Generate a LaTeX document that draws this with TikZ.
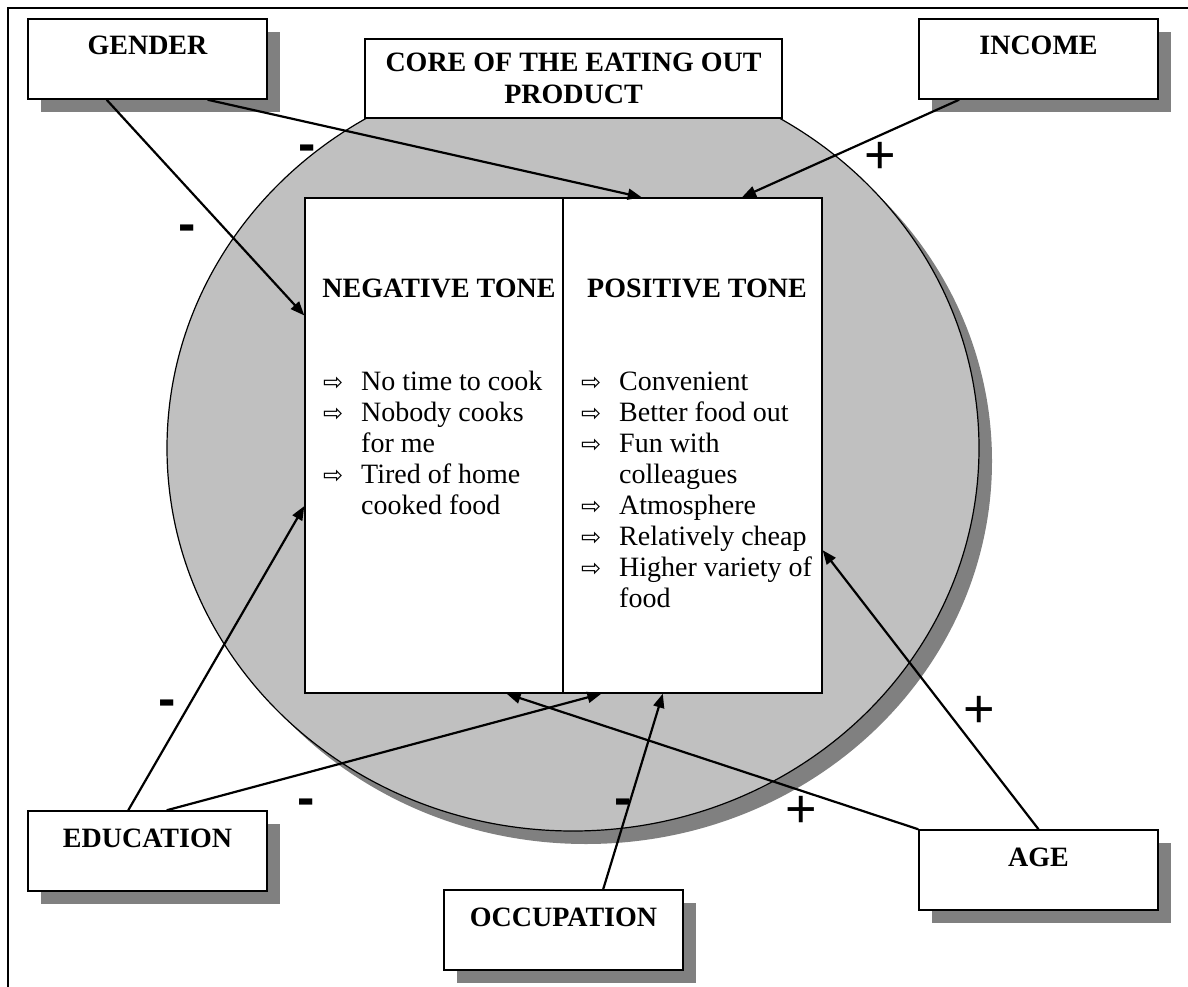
\documentclass[tikz,border=0pt]{standalone}
\usepackage{fontspec}
\setmainfont{Liberation Serif}
\newfontfamily\signfont{Liberation Sans}
\newfontfamily\arrfont{DejaVu Sans}
\usetikzlibrary{arrows.meta,shapes.geometric,shadows,calc}
\definecolor{discgray}{HTML}{C0C0C0}
\definecolor{shadegray}{HTML}{808080}
\newcommand{\itm}{\makebox[38pt][l]{\arrfont\fontsize{24}{24}\selectfont ⇨}}
\newcommand{\ind}{\hspace*{38pt}}
\begin{document}
\begin{tikzpicture}[x=1pt,y=-1pt,
  myshadow/.style={drop shadow={shadow xshift=13pt, shadow yshift=-13pt, fill=shadegray, opacity=1}},
  factor/.style={draw, fill=white, line width=1.5pt, minimum width=239pt,
    inner xsep=0pt, inner ysep=0pt, text height=36pt, text depth=44pt,
    font=\fontsize{28}{32}\selectfont\bfseries, myshadow},
  corebox/.style={draw, fill=white, line width=1.5pt, minimum width=417pt, minimum height=79pt,
    inner sep=0pt, align=center, font=\fontsize{28}{32}\selectfont\bfseries},
  panel/.style={draw, fill=white, line width=1.4pt, minimum height=495pt, inner sep=0pt},
  title/.style={font=\fontsize{28}{32}\selectfont\bfseries, inner sep=0pt},
  listtext/.style={font=\fontsize{28}{31}\selectfont, inner sep=0pt},
  conn/.style={line width=2.2pt, -{Triangle[length=14pt,width=11pt]}},
  minussign/.style={font=\signfont\bfseries\fontsize{52}{52}\selectfont, inner sep=0pt},
  plussign/.style={font=\signfont\fontsize{54}{54}\selectfont, inner sep=0pt}
]
\useasboundingbox (0,0) rectangle (1188,987);
% outer frame
\draw[line width=1.6pt] (8,987) -- (8,8) -- (1188,8);

% disc
\node[ellipse, draw, fill=discgray, line width=1.2pt, minimum width=812pt, minimum height=766pt,
  inner sep=0pt, myshadow] (disc) at (573,448) {};

% core label
\node[corebox] (core) at (573.5,78.5) {CORE OF THE EATING OUT\\PRODUCT};

% central panels
\node[panel, minimum width=258pt] (neg) at (434,445.5) {};
\node[panel, minimum width=259pt] (pos) at (692.5,445.5) {};

\node[title, anchor=base] (negtitle) at (439,297) {NEGATIVE TONE};
\node[title, anchor=base] (postitle) at (697,297) {POSITIVE TONE};

\node[listtext, anchor=base west] (neglist) at (323,390) {\begin{tabular}[t]{@{}l@{}}
\itm No time to cook\\
\itm Nobody cooks\\
\ind for me\\
\itm Tired of home\\
\ind cooked food
\end{tabular}};

\node[listtext, anchor=base west] (poslist) at (581,390) {\begin{tabular}[t]{@{}l@{}}
\itm Convenient\\
\itm Better food out\\
\itm Fun with\\
\ind colleagues\\
\itm Atmosphere\\
\itm Relatively cheap\\
\itm Higher variety of\\
\ind food
\end{tabular}};

% factor boxes
\node[factor] (gender) at (147.5,59) {GENDER};
\node[factor] (income) at (1038.5,59) {INCOME};
\node[factor] (education) at (147.5,851) {EDUCATION};
\node[factor] (occupation) at (563.5,930) {OCCUPATION};
\node[factor] (age) at (1038.5,870) {AGE};

% connectors
\draw[conn] ($(gender.south west)!0.33!(gender.south east)$) -- ($(neg.north west)!0.238!(neg.south west)$);
\draw[conn] ($(gender.south west)!0.75!(gender.south east)$) -- ($(pos.north west)!0.305!(pos.north east)$);
\draw[conn] ($(income.south west)!0.17!(income.south east)$) -- ($(pos.north west)!0.69!(pos.north east)$);
\draw[conn] ($(education.north west)!0.42!(education.north east)$) -- ($(neg.north west)!0.622!(neg.south west)$);
\draw[conn] ($(education.north west)!0.58!(education.north east)$) -- ($(pos.south west)!0.15!(pos.south east)$);
\draw[conn] ($(occupation.north west)!0.665!(occupation.north east)$) -- ($(pos.south west)!0.386!(pos.south east)$);
\draw[conn] (age.north west) -- ($(neg.south west)!0.78!(neg.south east)$);
\draw[conn] (age.north) -- ($(pos.north east)!0.711!(pos.south east)$);

% signs
\node[minussign] (m1) at (307,153) {-};
\node[minussign] (m2) at (187,233) {-};
\node[minussign] (m3) at (167,708) {-};
\node[minussign] (m4) at (306,807) {-};
\node[minussign] (m5) at (623,807) {-};
\node[plussign] (p1) at (880,158) {+};
\node[plussign] (p2) at (979,712) {+};
\node[plussign] (p3) at (801,812) {+};
\end{tikzpicture}
\end{document}
